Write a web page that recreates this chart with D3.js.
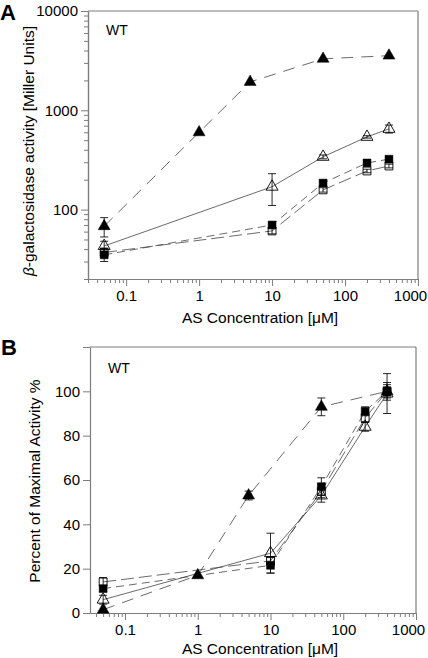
<!DOCTYPE html>
<html><head><meta charset="utf-8">
<script src="https://cdn.jsdelivr.net/npm/d3@7"></script>
<style>body{margin:0;background:#fff}svg{display:block}</style>
</head><body><svg id="c" width="428" height="658"></svg>
<script>
// ---------- data ----------
const xMajorTicks = [0.1, 1, 10, 100, 1000];
const aYMajorTicks = [100, 1000, 10000];
const bYMajorTicks = [0, 20, 40, 60, 80, 100, 120];

// concentrations (µM)
const concFilledTri = [0.05, 1, 5, 50, 400];
const concOther = [0.05, 10, 50, 200, 400];

// Panel A: beta-galactosidase activity (Miller units)
const aFilledTri = [68, 600, 1930, 3300, 3550];
const aFilledTriErr = [15, 0, 0, 0, 0];
const aOpenTri = [43, 170, 340, 540, 650];
const aOpenTriErr = [5, 60, 15, 15, 60];
const aFilledSq = [35, 70, 185, 295, 322];
const aFilledSqErr = [5, 4, 10, 12, 14];
const aOpenSq = [37, 61, 158, 245, 275];
const aOpenSqErr = [4, 4, 8, 10, 12];

// Panel B: percent of maximal activity
const bFilledTri = [1.5, 17, 53, 93, 100];
const bFilledTriErr = [0, 0, 2, 4, 2];
const bOpenTri = [6, 27, 53, 84, 99];
const bOpenTriErr = [2, 9, 3, 2, 9];
const bFilledSq = [11, 21.5, 57, 91, 100];
const bFilledSqErr = [1, 3.5, 4, 2, 4];
const bOpenSq = [14, 23.5, 55, 88, 100];
const bOpenSqErr = [2, 2, 3, 2, 3];

// ---------- drawing ----------
const font = '"Liberation Sans", Arial, Helvetica, sans-serif';
const axisColor = "#7d7d7d";
const svg = d3.select("#c");

function makeSeries(xs, ys, es) { return xs.map((x, i) => ({x, y: ys[i], e: es[i]})); }

function drawPanel(cfg) {
  const g = svg.append("g");
  const x = d3.scaleLog().domain(cfg.xDomain).range(cfg.xRange);
  const y = cfg.yScale;
  const [x0, x1] = cfg.xRange;
  const [yb, yt] = y.range();

  // frame (top, right)
  g.append("line").attr("x1", x0 - (cfg.topExt || 0)).attr("x2", x1).attr("y1", yt).attr("y2", yt)
    .attr("stroke", axisColor).attr("stroke-width", 1.2);
  g.append("line").attr("x1", x1).attr("x2", x1).attr("y1", yt).attr("y2", yb)
    .attr("stroke", axisColor).attr("stroke-width", 1.2);

  const styleAx = sel => {
    sel.attr("font-family", font).attr("font-size", 15);
    sel.select(".domain").attr("stroke", axisColor).attr("stroke-width", 1.2);
    sel.selectAll(".tick line").attr("stroke", axisColor);
    sel.selectAll(".tick text").attr("fill", "#000");
  };

  // x axis: minor then major
  const allX = x.ticks();
  const minorX = allX.filter(v => Math.abs(Math.log10(v) - Math.round(Math.log10(v))) > 1e-6);
  g.append("g").attr("transform", `translate(0,${yb})`)
    .call(d3.axisBottom(x).tickValues(minorX).tickSize(4).tickSizeOuter(0).tickFormat(""))
    .call(styleAx);
  const xa = g.append("g").attr("transform", `translate(0,${yb})`)
    .call(d3.axisBottom(x).tickValues(xMajorTicks).tickSize(7).tickSizeOuter(0).tickPadding(4)
      .tickFormat(d => String(d)))
    .call(styleAx);
  xa.selectAll(".tick text").filter(d => d === 1000).attr("dx", -8);

  // y axis
  if (cfg.logY) {
    const allY = y.ticks();
    const minorY = allY.filter(v => Math.abs(Math.log10(v) - Math.round(Math.log10(v))) > 1e-6);
    g.append("g").attr("transform", `translate(${x0},0)`)
      .call(d3.axisLeft(y).tickValues(minorY).tickSize(4).tickSizeOuter(0).tickFormat(""))
      .call(styleAx);
  }
  g.append("g").attr("transform", `translate(${x0},0)`)
    .call(d3.axisLeft(y).tickValues(cfg.yTicks).tickSize(7).tickSizeOuter(0).tickPadding(3)
      .tickFormat(cfg.yFormat))
    .call(styleAx);

  // lines
  const line = d3.line().x(d => x(d.x)).y(d => y(d.y));
  cfg.series.forEach(s => {
    g.append("path").datum(s.data).attr("d", line).attr("fill", "none")
      .attr("stroke", "#444").attr("stroke-width", 0.8)
      .attr("stroke-dasharray", s.dash || null);
  });
  // error bars
  cfg.series.forEach(s => {
    s.data.filter(d => d.e > 0).forEach(d => {
      const cx = x(d.x), ylo = y(d.y - d.e), yhi = y(d.y + d.e);
      g.append("line").attr("x1", cx).attr("x2", cx).attr("y1", ylo).attr("y2", yhi)
        .attr("stroke", "#111").attr("stroke-width", 0.9);
      [ylo, yhi].forEach(yy => g.append("line").attr("x1", cx - 4).attr("x2", cx + 4)
        .attr("y1", yy).attr("y2", yy).attr("stroke", "#111").attr("stroke-width", 0.9));
    });
  });
  // markers
  cfg.series.forEach(s => {
    const sym = d3.symbol().type(s.shape === "tri" ? d3.symbolTriangle : d3.symbolSquare).size(62);
    g.selectAll(null).data(s.data).join("path")
      .attr("d", sym)
      .attr("transform", d => `translate(${x(d.x)},${y(d.y)})`)
      .attr("fill", s.filled ? "#000" : "none")
      .attr("stroke", "#000").attr("stroke-width", s.filled ? 0.5 : 0.9);
  });

  // texts
  g.append("text").attr("x", cfg.letterX).attr("y", cfg.letterY).text(cfg.letter)
    .attr("font-family", font).attr("font-weight", "bold").attr("font-size", 22);
  g.append("text").attr("x", cfg.wtX).attr("y", cfg.wtY).text("WT")
    .attr("font-family", font).attr("font-size", 14);
  g.append("text").attr("x", (x0 + x1) / 2 + 7).attr("y", cfg.xTitleY)
    .attr("text-anchor", "middle").attr("font-family", font).attr("font-size", 15.5)
    .text("AS Concentration [\u03BCM]");
  const yt_ = g.append("text").attr("transform", `translate(${cfg.yTitleX},${cfg.yTitleCY}) rotate(-90)`)
    .attr("text-anchor", "middle").attr("font-family", font).attr("font-size", 15.5);
  cfg.yTitle(yt_);
}

drawPanel({
  xDomain: [0.03, 1000], xRange: [88, 418],
  yScale: d3.scaleLog().domain([20, 10000]).range([279, 11]),
  logY: true, yTicks: aYMajorTicks, yFormat: d => String(d),
  series: [
    {data: makeSeries(concOther, aOpenSq, aOpenSqErr), shape: "sq", filled: false, dash: "13,5"},
    {data: makeSeries(concOther, aFilledSq, aFilledSqErr), shape: "sq", filled: true, dash: "8,5"},
    {data: makeSeries(concOther, aOpenTri, aOpenTriErr), shape: "tri", filled: false, dash: null},
    {data: makeSeries(concFilledTri, aFilledTri, aFilledTriErr), shape: "tri", filled: true, dash: "12,8"}
  ],
  letter: "A", letterX: 0, letterY: 20, wtX: 106, wtY: 35, xTitleY: 323,
  yTitleX: 34, yTitleCY: 151,
  yTitle: t => {
    t.append("tspan").attr("font-style", "italic").text("\u03B2");
    t.append("tspan").text("-galactosidase activity [Miller Units]");
  }
});

drawPanel({
  xDomain: [0.033, 1000], xRange: [90, 416],
  yScale: d3.scaleLinear().domain([0, 120]).range([613, 347]),
  logY: false, yTicks: bYMajorTicks, yFormat: d => d === 120 ? "" : String(d),
  series: [
    {data: makeSeries(concOther, bOpenSq, bOpenSqErr), shape: "sq", filled: false, dash: "13,5"},
    {data: makeSeries(concOther, bFilledSq, bFilledSqErr), shape: "sq", filled: true, dash: "8,5"},
    {data: makeSeries(concOther, bOpenTri, bOpenTriErr), shape: "tri", filled: false, dash: null},
    {data: makeSeries(concFilledTri, bFilledTri, bFilledTriErr), shape: "tri", filled: true, dash: "12,8"}
  ],
  letter: "B", letterX: 1, letterY: 355, wtX: 108, wtY: 373, xTitleY: 654,
  yTitleX: 40, yTitleCY: 481,
  yTitle: t => t.text("Percent of Maximal Activity %")
});
</script></body></html>
